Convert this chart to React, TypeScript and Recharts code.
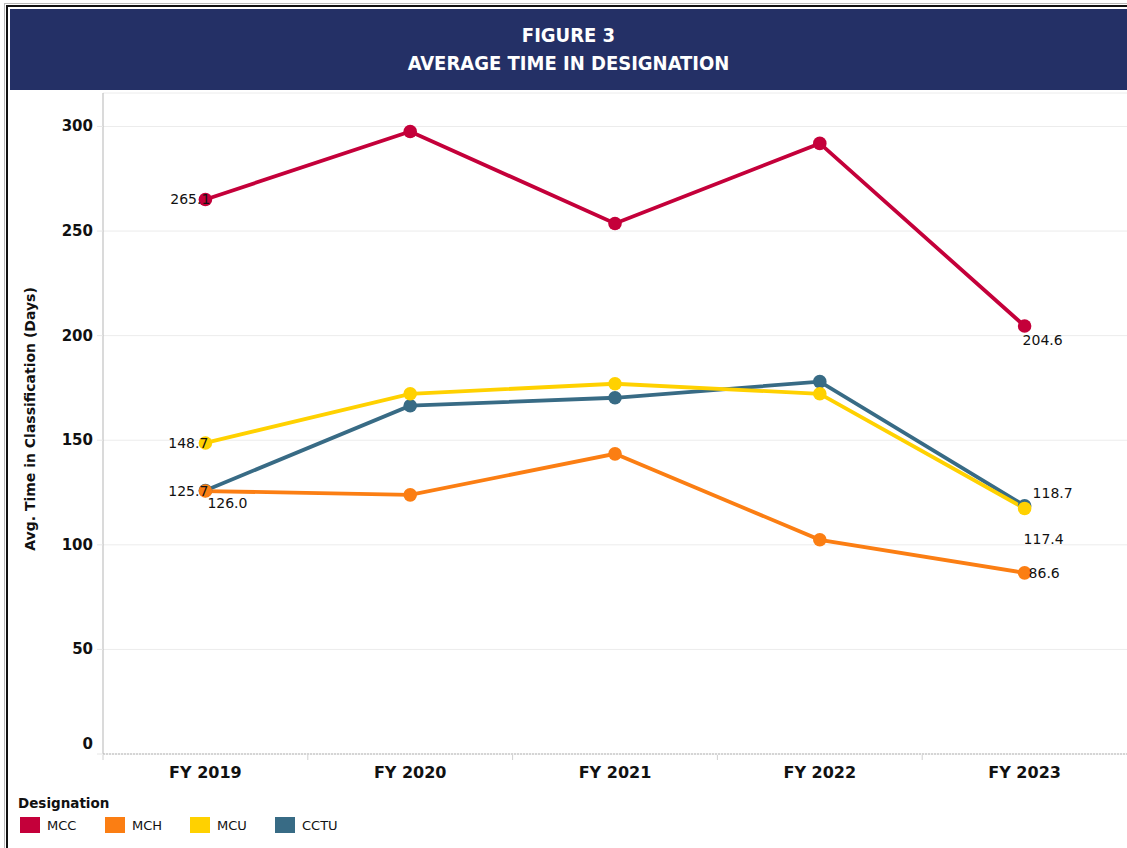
import React from "react";
import { LineChart, Line, XAxis, YAxis, CartesianGrid, LabelList } from "recharts";

const categories = ["FY 2019", "FY 2020", "FY 2021", "FY 2022", "FY 2023"];
const mcc = [265.1, 297.6, 253.6, 291.9, 204.6];
const mch = [125.7, 123.9, 143.5, 102.4, 86.6];
const mcu = [148.7, 172.2, 177.0, 172.2, 117.4];
const cctu = [126.0, 166.5, 170.3, 178.0, 118.7];
const yTicks = [0, 50, 100, 150, 200, 250, 300];

const series = [
  { key: "MCC", values: mcc, color: "#c4003a" },
  { key: "MCH", values: mch, color: "#fb7e13" },
  { key: "MCU", values: mcu, color: "#ffd100" },
  { key: "CCTU", values: cctu, color: "#386b85" },
];

// label placement (first, last) per series: [dx, dy, anchor]
const labelPlacement: Record<string, [number, number, string][]> = {
  MCC: [[5, 0, "end"], [-2, 14, "start"]],
  MCH: [[3, 0, "end"], [4, 0, "start"]],
  MCU: [[3, 0, "end"], [-1, 31, "start"]],
  CCTU: [[2, 13, "start"], [8, -13, "start"]],
};

const data = categories.map((c, i) => {
  const row: Record<string, any> = { x: i, name: c };
  series.forEach((s) => {
    row[s.key] = s.values[i];
  });
  return row;
});

// integer positions hold category labels, half positions hold band-boundary ticks
const xTicks: number[] = [];
categories.forEach((_, i) => {
  xTicks.push(i - 0.5);
  xTicks.push(i);
});

const FONT = "'DejaVu Sans', Verdana, sans-serif";

const makeLabel = (key: string) => (props: any) => {
  const { x, y, value, index } = props;
  const last = categories.length - 1;
  if (index !== 0 && index !== last) return null;
  const [dx, dy, anchor] = labelPlacement[key][index === 0 ? 0 : 1];
  return (
    <text
      x={x + dx}
      y={y + dy}
      textAnchor={anchor as any}
      dominantBaseline="central"
      fontFamily={FONT}
      fontSize={14}
      fill="#111"
    >
      {Number(value).toFixed(1)}
    </text>
  );
};

const YTick = (props: any) => {
  const { x, y, payload } = props;
  const shift = payload.value === 0 ? -10 : 0;
  return (
    <text
      x={x}
      y={y + shift}
      textAnchor="end"
      dominantBaseline="central"
      fontFamily={FONT}
      fontWeight="bold"
      fontSize={15}
      fill="#111"
    >
      {payload.value}
    </text>
  );
};

const XTick = (props: any) => {
  const { x, y, payload } = props;
  const v = payload.value;
  if (!Number.isInteger(v)) {
    return <line x1={x} x2={x} y1={y - 1} y2={y + 4} stroke="#d0d0d0" strokeWidth={1} />;
  }
  return (
    <text
      x={x}
      y={y + 22}
      textAnchor="middle"
      fontFamily={FONT}
      fontWeight="bold"
      fontSize={16}
      fill="#111"
    >
      {categories[v]}
    </text>
  );
};

export default function App() {
  const drawOrder = [...series].reverse();
  return (
    <div
      style={{
        position: "absolute",
        left: 0,
        top: 0,
        width: 1127,
        height: 848,
        overflow: "hidden",
        background: "#fff",
        fontFamily: FONT,
      }}
    >
      {/* frame */}
      <div
        style={{
          position: "absolute",
          left: 4,
          top: 3,
          width: 1140,
          height: 860,
          borderLeft: "1px solid #b8b8b8",
          borderTop: "1px solid #b8b8b8",
        }}
      />
      <div
        style={{
          position: "absolute",
          left: 6,
          top: 5,
          width: 1140,
          height: 860,
          borderLeft: "2px solid #111",
          borderTop: "2px solid #111",
        }}
      />
      {/* banner */}
      <div
        style={{
          position: "absolute",
          left: 10,
          top: 9,
          width: 1117,
          height: 81,
          background: "#243066",
          color: "#fff",
          textAlign: "center",
          fontFamily: "'DejaVu Sans Condensed', 'Liberation Sans Narrow', sans-serif",
          fontWeight: "bold",
          fontSize: 20,
          lineHeight: "28px",
          paddingTop: 12,
          boxSizing: "border-box",
        }}
      >
        <div>FIGURE 3</div>
        <div>AVERAGE TIME IN DESIGNATION</div>
      </div>

      <div style={{ position: "absolute", left: 0, top: 0 }}>
        <LineChart
          width={1127}
          height={848}
          data={data}
          margin={{ top: 93, right: 0, bottom: 54, left: 43 }}
        >
          <CartesianGrid horizontal vertical={false} stroke="#ececec" strokeWidth={1} />
          <XAxis
            type="number"
            dataKey="x"
            domain={[-0.5, 4.5]}
            ticks={xTicks}
            tick={<XTick />}
            tickLine={false}
            tickSize={0}
            axisLine={{ stroke: "#b5b5b5", strokeDasharray: "2 1" }}
            height={40}
            interval={0}
          />
          <YAxis
            type="number"
            domain={[0, 316]}
            ticks={yTicks}
            tick={<YTick />}
            width={60}
            tickLine={{ stroke: "#e6e6e6" }}
            tickSize={6}
            tickMargin={4}
            axisLine={{ stroke: "#b5b5b5" }}
            allowDataOverflow
          />
          {drawOrder.map((s) => (
            <Line
              key={"lbl-" + s.key}
              dataKey={s.key}
              stroke="none"
              dot={false}
              activeDot={false}
              isAnimationActive={false}
              legendType="none"
            >
              <LabelList dataKey={s.key} content={makeLabel(s.key)} />
            </Line>
          ))}
          {drawOrder.map((s) => (
            <Line
              key={s.key}
              dataKey={s.key}
              stroke={s.color}
              strokeWidth={3.8}
              dot={{ r: 6.8, fill: s.color, stroke: s.color, strokeWidth: 0 }}
              activeDot={false}
              isAnimationActive={false}
            />
          ))}
        </LineChart>
      </div>

      {/* y-axis title */}
      <div
        style={{
          position: "absolute",
          left: 30,
          top: 419,
          transform: "translate(-50%, -50%) rotate(-90deg)",
          whiteSpace: "nowrap",
          fontFamily: FONT,
          fontWeight: "bold",
          fontSize: 14,
          color: "#111",
        }}
      >
        Avg. Time in Classification (Days)
      </div>

      {/* legend */}
      <div
        style={{
          position: "absolute",
          left: 18,
          top: 795,
          fontFamily: FONT,
          fontWeight: "bold",
          fontSize: 13.5,
          color: "#111",
        }}
      >
        Designation
      </div>
      {series.map((s, i) => (
        <div
          key={s.key}
          style={{
            position: "absolute",
            left: 20 + i * 85,
            top: 817,
            display: "flex",
            alignItems: "center",
            fontFamily: FONT,
            fontSize: 13,
            color: "#111",
          }}
        >
          <div style={{ width: 20, height: 16, background: s.color, marginRight: 7 }} />
          <span>{s.key}</span>
        </div>
      ))}
    </div>
  );
}
